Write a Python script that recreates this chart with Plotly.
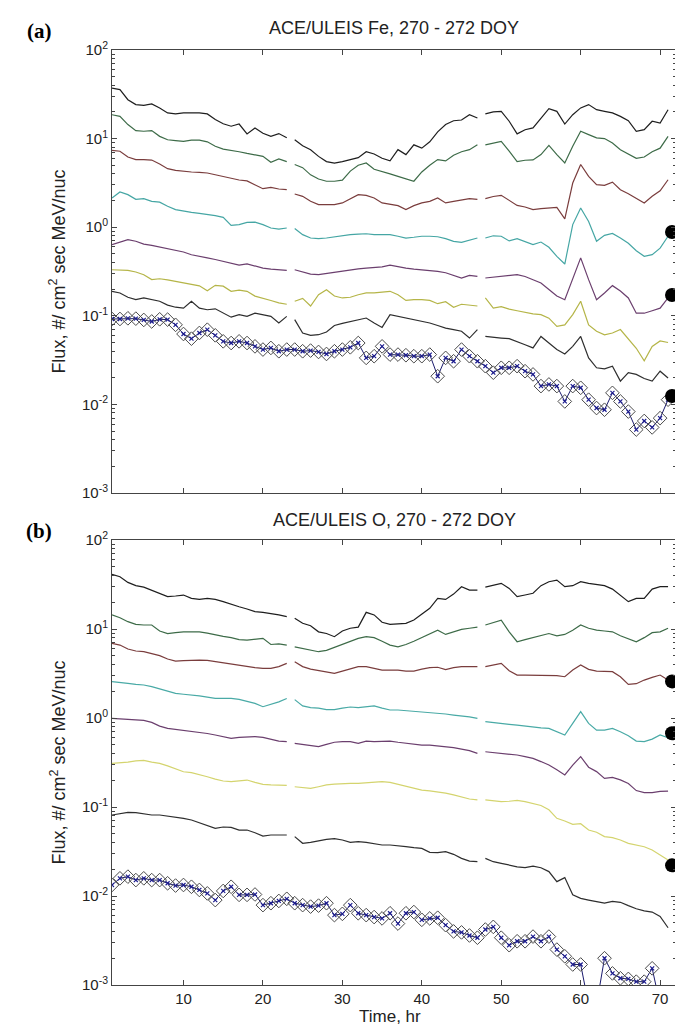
import plotly.graph_objects as go

hours = list(range(1, 72))
day_breaks = [24, 48]
x_ticks = [10, 20, 30, 40, 50, 60, 70]
y_tickvals = [1e-3, 1e-2, 1e-1, 1e0, 1e1, 1e2]
y_ticktext = ["10<sup>-3</sup>", "10<sup>-2</sup>", "10<sup>-1</sup>",
              "10<sup>0</sup>", "10<sup>1</sup>", "10<sup>2</sup>"]

# ---------------- Panel (a): Fe ----------------
fe_1 = [37.2, 35.7, 27.5, 24.2, 23.7, 24.6, 22.2, 19.5, 19.0, 19.5, 19.5, 19.5, 19.0, 16.4, 14.7, 13.8, 14.6, 11.3, 13.2, 11.5, 10.6, 11.4, 10.2,
        9.7, 8.3, 7.5, 6.3, 5.5, 5.3, 5.5, 5.8, 6.1, 7.1, 6.7, 6.0, 5.6, 7.5, 6.6, 8.5, 7.8, 9.2, 11.9, 14.4, 15.9, 16.2, 18.6, 17.1,
        19.0, 20.0, 20.3, 15.7, 11.3, 12.6, 13.2, 17.1, 21.8, 20.3, 14.6, 18.6, 22.2, 24.2, 21.2, 20.3, 19.5, 17.8, 15.9, 12.1, 12.6, 15.7, 15.0, 21.2]
fe_2 = [18.6, 17.8, 14.4, 12.3, 12.1, 12.3, 10.6, 9.7, 9.5, 9.3, 9.6, 9.6, 9.2, 8.2, 7.6, 7.4, 7.1, 6.8, 6.5, 6.3, 5.4, 5.9, 5.5,
        5.1, 4.7, 3.9, 3.5, 3.3, 3.3, 3.4, 4.3, 5.0, 5.3, 4.5, 4.2, 4.0, 3.75, 3.5, 3.3, 4.2, 5.0, 5.8, 5.6, 6.5, 7.1, 7.5, 8.5,
        8.5, 8.9, 9.3, 7.2, 5.5, 5.7, 5.75, 6.6, 8.4, 6.6, 5.3, 8.2, 12.1, 11.1, 10.2, 10.0, 8.9, 7.5, 6.7, 6.0, 6.2, 7.1, 7.8, 10.6]
fe_3 = [7.37, 7.2, 6.2, 5.8, 5.8, 5.73, 5.17, 4.58, 4.38, 4.27, 4.2, 4.16, 4.09, 3.91, 3.72, 3.53, 3.41, 3.33, 3.02, 2.72, 2.81, 2.70, 2.65,
        2.37, 2.23, 1.96, 1.80, 1.80, 1.80, 1.88, 2.10, 2.33, 2.29, 2.14, 1.88, 1.80, 1.75, 1.58, 1.75, 1.88, 1.96, 2.14, 1.88, 1.96, 2.04, 2.10, 2.06,
        2.10, 2.22, 2.29, 2.00, 1.76, 1.69, 1.58, 1.62, 1.64, 1.67, 1.24, 3.15, 5.1, 3.75, 3.02, 2.97, 3.23, 2.65, 2.39, 2.10, 1.88, 2.23, 2.58, 3.43]
fe_4 = [2.14, 2.50, 2.33, 2.06, 2.10, 1.96, 1.92, 1.72, 1.58, 1.51, 1.47, 1.43, 1.40, 1.35, 1.29, 1.05, 1.07, 1.135, 1.14, 1.07, 0.98, 0.953, 0.98,
        0.966, 0.824, 0.755, 0.742, 0.755, 0.78, 0.81, 0.824, 0.836, 0.843, 0.824, 0.824, 0.824, 0.79, 0.755, 0.77, 0.79, 0.79, 0.78, 0.742, 0.693, 0.675, 0.717, 0.755,
        0.755, 0.80, 0.79, 0.70, 0.742, 0.693, 0.635, 0.68, 0.593, 0.469, 0.384, 1.07, 1.65, 1.16, 0.693, 0.81, 0.85, 0.755, 0.66, 0.543, 0.469, 0.49, 0.58, 0.79]
fe_5 = [0.634, 0.680, 0.723, 0.694, 0.644, 0.623, 0.597, 0.582, 0.557, 0.525, 0.489, 0.466, 0.451, 0.432, 0.414, 0.396, 0.373, 0.386, 0.364, 0.345, 0.336, 0.331, 0.325,
        0.331, 0.312, 0.296, 0.291, 0.301, 0.312, 0.322, 0.333, 0.339, 0.345, 0.351, 0.357, 0.373, 0.357, 0.345, 0.336, 0.331, 0.325, 0.317, 0.306, 0.286, 0.267, 0.286, 0.278,
        0.267, 0.272, 0.276, 0.281, 0.291, 0.278, 0.256, 0.235, 0.198, 0.167, 0.152, 0.267, 0.451, 0.256, 0.152, 0.181, 0.219, 0.190, 0.159, 0.107, 0.107, 0.114, 0.122, 0.159]
fe_6 = [0.331, 0.331, 0.325, 0.312, 0.291, 0.256, 0.262, 0.254, 0.245, 0.237, 0.229, 0.218, 0.192, 0.221, 0.216, 0.189, 0.195, 0.189, 0.167, 0.159, 0.149, 0.140, 0.135,
        0.146, 0.157, 0.129, 0.173, 0.197, 0.167, 0.159, 0.162, 0.173, 0.181, 0.181, 0.186, 0.189, 0.173, 0.149, 0.152, 0.152, 0.149, 0.137, 0.144, 0.125, 0.135, 0.132, 0.129,
        0.159, 0.122, 0.127, 0.119, 0.114, 0.109, 0.105, 0.103, 0.094, 0.076, 0.079, 0.103, 0.146, 0.079, 0.067, 0.061, 0.064, 0.070, 0.054, 0.043, 0.031, 0.045, 0.052, 0.050]
fe_7 = [0.189, 0.181, 0.162, 0.152, 0.159, 0.152, 0.146, 0.132, 0.125, 0.122, 0.146, 0.122, 0.117, 0.120, 0.107, 0.0965, 0.103, 0.0985, 0.107, 0.103, 0.0985, 0.083, 0.0985,
        0.0905, 0.064, 0.0602, 0.0612, 0.0656, 0.0778, 0.0823, 0.0863, 0.0912, 0.0944, 0.083, 0.0739, 0.103, 0.0985, 0.0944, 0.0905, 0.0863, 0.083, 0.0778, 0.0727, 0.0697, 0.067, 0.0561, 0.0697,
        0.0585, 0.057, 0.0561, 0.0552, 0.0515, 0.0472, 0.0434, 0.0585, 0.0493, 0.0416, 0.0371, 0.0452, 0.0585, 0.0335, 0.0259, 0.0252, 0.0270, 0.0183, 0.0228, 0.0218, 0.0196, 0.0183, 0.0237, 0.0199]
fe_8 = [0.0921, 0.0921, 0.0937, 0.0929, 0.0898, 0.0863, 0.0913, 0.0906, 0.0791, 0.0623, 0.0552, 0.064, 0.0697, 0.0602, 0.0515, 0.0493, 0.0515, 0.0493, 0.0452, 0.0416,
        0.0434, 0.0398, 0.0416, 0.0416, 0.0398, 0.0405, 0.0391, 0.0371, 0.0398, 0.0416, 0.0441, 0.0493, 0.0335, 0.0350, 0.0452, 0.0365, 0.0365, 0.0359, 0.0350, 0.0350,
        0.0365, 0.0208, 0.0335, 0.0307, 0.0416, 0.0350, 0.0307, 0.0270, 0.0228, 0.0259, 0.0259, 0.0270, 0.0237, 0.0218, 0.0161, 0.0168, 0.0161, 0.0108, 0.0161, 0.0154,
        0.0113, 0.0091, 0.0087, 0.0135, 0.0108, 0.0083, 0.0052, 0.0065, 0.0055, 0.0070, 0.0113]
fe_dots = [0.883, 0.172, 0.01245]

# ---------------- Panel (b): O ----------------
o_1 = [41.1, 38.7, 33.4, 30.7, 29.6, 27.4, 25.2, 23.1, 23.5, 24.1, 22.1, 21.5, 22.1, 21.5, 20.3, 18.9, 17.8, 16.8, 15.7, 15.4, 15.0, 14.4, 13.8,
       13.2, 11.6, 10.9, 9.3, 8.9, 8.2, 9.5, 10.2, 10.5, 15.4, 14.4, 11.9, 11.3, 11.4, 11.6, 12.6, 14.6, 17.1, 22.1, 21.5, 24.7, 29.9, 27.4, 27.4,
       29.6, 31.2, 32.6, 28.6, 23.1, 24.1, 25.2, 30.7, 34.0, 35.5, 29.9, 30.7, 34.0, 32.6, 31.8, 30.7, 28.1, 24.1, 20.3, 22.1, 22.1, 28.1, 29.9, 29.9]
o_2 = [14.4, 13.4, 12.1, 11.3, 11.1, 11.1, 9.5, 8.9, 9.1, 9.3, 9.3, 9.3, 9.0, 8.56, 8.27, 8.0, 7.6, 7.5, 7.7, 7.85, 6.7, 6.8, 6.6,
       6.3, 6.07, 5.8, 5.56, 5.75, 6.2, 6.7, 7.3, 7.85, 8.2, 8.0, 7.3, 6.6, 6.3, 6.7, 7.3, 8.0, 8.9, 9.7, 8.7, 9.3, 9.9, 10.2, 10.5,
       11.1, 11.9, 12.6, 9.3, 7.2, 7.6, 8.0, 8.56, 8.9, 8.4, 8.7, 9.7, 11.1, 10.2, 9.7, 9.5, 9.3, 8.4, 7.7, 7.2, 8.0, 9.1, 9.3, 10.2]
o_3 = [6.9, 6.6, 5.96, 5.66, 5.56, 5.33, 5.02, 4.6, 4.37, 4.41, 4.48, 4.48, 4.45, 4.3, 4.15, 4.01, 3.87, 3.78, 3.68, 3.61, 3.61, 3.78, 4.11,
       4.3, 3.78, 3.55, 3.43, 3.32, 3.18, 3.37, 3.55, 3.78, 3.78, 3.61, 3.46, 3.46, 3.46, 3.37, 3.37, 3.55, 3.68, 3.72, 3.5, 3.68, 3.78, 3.78, 3.78,
       3.78, 3.94, 4.11, 3.40, 3.04, 3.04, 3.04, 3.04, 3.04, 2.99, 2.91, 3.46, 3.94, 3.52, 3.37, 3.32, 3.32, 2.91, 2.39, 2.43, 2.67, 2.86, 3.04, 2.67]
o_4 = [2.56, 2.52, 2.45, 2.39, 2.35, 2.25, 2.12, 1.98, 1.89, 1.85, 1.82, 1.77, 1.72, 1.66, 1.66, 1.66, 1.62, 1.55, 1.46, 1.34, 1.43, 1.52, 1.66,
       1.61, 1.37, 1.31, 1.29, 1.24, 1.24, 1.29, 1.33, 1.31, 1.34, 1.37, 1.29, 1.23, 1.23, 1.21, 1.18, 1.18, 1.16, 1.13, 1.11, 1.08, 1.06, 1.03, 0.99,
       0.91, 0.895, 0.871, 0.85, 0.834, 0.81, 0.79, 0.775, 0.765, 0.702, 0.644, 0.871, 1.18, 0.871, 0.73, 0.73, 0.765, 0.702, 0.633, 0.551, 0.542, 0.58, 0.644, 0.60]
o_5 = [0.99, 0.98, 0.97, 0.955, 0.94, 0.894, 0.81, 0.765, 0.745, 0.726, 0.713, 0.69, 0.67, 0.644, 0.617, 0.591, 0.606, 0.617, 0.617, 0.606, 0.58, 0.551, 0.542,
       0.519, 0.505, 0.489, 0.477, 0.505, 0.534, 0.542, 0.542, 0.519, 0.551, 0.542, 0.547, 0.551, 0.534, 0.519, 0.505, 0.497, 0.497, 0.489, 0.477, 0.465, 0.448, 0.43, 0.40,
       0.418, 0.41, 0.40, 0.39, 0.384, 0.368, 0.352, 0.324, 0.296, 0.262, 0.229, 0.296, 0.368, 0.28, 0.25, 0.21, 0.215, 0.202, 0.184, 0.153, 0.145, 0.145, 0.15, 0.151]
o_6 = [0.309, 0.313, 0.319, 0.33, 0.334, 0.319, 0.309, 0.29, 0.27, 0.249, 0.243, 0.233, 0.219, 0.206, 0.196, 0.193, 0.198, 0.201, 0.189, 0.18, 0.177, 0.175, 0.175,
       0.169, 0.167, 0.162, 0.169, 0.177, 0.181, 0.184, 0.184, 0.184, 0.188, 0.189, 0.193, 0.189, 0.18, 0.169, 0.162, 0.155, 0.152, 0.148, 0.143, 0.137, 0.129, 0.123, 0.120,
       0.120, 0.117, 0.115, 0.116, 0.119, 0.115, 0.11, 0.104, 0.093, 0.0746, 0.0696, 0.0639, 0.065, 0.0551, 0.052, 0.0465, 0.0452, 0.0426, 0.039, 0.0374, 0.0358, 0.0329, 0.029, 0.0254]
o_7 = [0.0813, 0.0849, 0.0871, 0.0864, 0.0835, 0.0813, 0.0813, 0.0792, 0.0759, 0.0746, 0.0714, 0.0667, 0.0628, 0.0576, 0.0596, 0.0591, 0.0551, 0.0551, 0.0514, 0.0472, 0.0485, 0.0485, 0.0485,
       0.0465, 0.0391, 0.0401, 0.0419, 0.0433, 0.0441, 0.0426, 0.0401, 0.0408, 0.0401, 0.0384, 0.0374, 0.0374, 0.0368, 0.0358, 0.0349, 0.0343, 0.031, 0.0307, 0.0315, 0.0294, 0.0265, 0.0247, 0.0243,
       0.0265, 0.0243, 0.0233, 0.0223, 0.0213, 0.0208, 0.0217, 0.0208, 0.0188, 0.0145, 0.0161, 0.0103, 0.0094, 0.009, 0.0087, 0.0083, 0.0087, 0.0085, 0.0078, 0.0072, 0.0068, 0.0066, 0.0059, 0.0044]
o_8 = [0.0133, 0.0158, 0.0165, 0.0151, 0.0158, 0.0151, 0.0151, 0.0139, 0.0131, 0.0133,
       0.0127, 0.0117, 0.0107, 0.0090, 0.0114, 0.0127, 0.0103, 0.0103, 0.0104, 0.0079,
       0.0083, 0.0088, 0.0093, 0.0083, 0.0079, 0.0076, 0.0078, 0.0083, 0.0061, 0.0063,
       0.0079, 0.0064, 0.0061, 0.0058, 0.0056, 0.0064, 0.0049, 0.0064, 0.0066, 0.0054,
       0.0056, 0.0057, 0.0047, 0.0040, 0.0039, 0.0036, 0.0034, 0.0042, 0.0045, 0.0034,
       0.0028, 0.0031, 0.0031, 0.0035, 0.0031, 0.0035, 0.0025, 0.0021, 0.0017, 0.0017,
       0.0006, 0.0006, 0.0020, 0.00135, 0.00119, 0.00117, 0.00109, 0.00109, 0.00154, 0.0006, 0.0005]
o_dots = [2.58, 0.673, 0.0221]

line_colors_a = ["#1e1e1e", "#3d6b48", "#7a3d3d", "#45a6a4", "#6b3f6e", "#b5b548", "#2e2e2e"]
line_colors_b = ["#1e1e1e", "#3d6b48", "#7a3d3d", "#49aaa6", "#6b3f6e", "#d4d46e", "#2e2e2e"]


def gapped(vals):
    xs, ys = [], []
    for h, v in zip(hours, vals):
        if h in day_breaks:
            xs.append(None)
            ys.append(None)
        xs.append(h)
        ys.append(v)
    return xs, ys


fig = go.Figure()

panels = [
    ([fe_1, fe_2, fe_3, fe_4, fe_5, fe_6, fe_7], fe_8, fe_dots, line_colors_a, "x", "y"),
    ([o_1, o_2, o_3, o_4, o_5, o_6, o_7], o_8, o_dots, line_colors_b, "x2", "y2"),
]

for lines, diamonds, dots, colors, xa, ya in panels:
    for vals, col in zip(lines, colors):
        xs, ys = gapped(vals)
        fig.add_trace(go.Scatter(x=xs, y=ys, mode="lines", xaxis=xa, yaxis=ya,
                                 line=dict(color=col, width=1.2), showlegend=False,
                                 connectgaps=False))
    fig.add_trace(go.Scatter(x=hours, y=diamonds, mode="lines+markers", xaxis=xa, yaxis=ya,
                             line=dict(color="#1b1b6e", width=1),
                             marker=dict(symbol="diamond-open", size=10.5, color="#4a4a4a",
                                         line=dict(width=1, color="#4a4a4a")),
                             showlegend=False))
    fig.add_trace(go.Scatter(x=hours, y=diamonds, mode="markers", xaxis=xa, yaxis=ya,
                             marker=dict(symbol="x-thin", size=4,
                                         line=dict(width=1.2, color="#1b1b8e")),
                             showlegend=False))
    fig.add_trace(go.Scatter(x=[71.5] * len(dots), y=dots, mode="markers", xaxis=xa, yaxis=ya,
                             marker=dict(symbol="circle", size=14, color="#000000"),
                             cliponaxis=False, showlegend=False))

axis_font = dict(family="Arial, Liberation Sans, sans-serif", size=15, color="#222222")

xcommon = dict(range=[1, 72], tickvals=x_ticks, ticks="inside", ticklen=5,
               tickcolor="#444444", showline=True, linecolor="#444444", linewidth=1,
               mirror="ticks", showgrid=False, zeroline=False, tickfont=axis_font)
ycommon = dict(type="log", range=[-3, 2], tickvals=y_tickvals, ticktext=y_ticktext,
               ticks="inside", ticklen=5, tickcolor="#444444", showline=True,
               linecolor="#444444", linewidth=1, mirror="ticks", showgrid=False,
               zeroline=False, tickfont=axis_font,
               minor=dict(ticks="inside", ticklen=3, tickcolor="#444444", dtick="D1",
                          showgrid=False))

fig.update_layout(
    width=683, height=1026,
    margin=dict(l=104, r=15, t=42, b=49),
    plot_bgcolor="white", paper_bgcolor="white",
    xaxis=dict(**xcommon, anchor="y", showticklabels=False),
    yaxis=dict(**ycommon, domain=[0.5262, 1.0], anchor="x"),
    xaxis2=dict(**xcommon, anchor="y2", showticklabels=True),
    yaxis2=dict(**ycommon, domain=[0.0, 0.4759], anchor="x2"),
)

title_font = dict(family="Arial, Liberation Sans, sans-serif", size=18, color="#222222")
xtitle_font = dict(family="Arial, Liberation Sans, sans-serif", size=17, color="#222222")
label_font = dict(family="Times New Roman, Liberation Serif, serif", size=21, color="#000000")

annotations = [
    dict(text="ACE/ULEIS Fe, 270 - 272 DOY", x=0.5, y=1.0235, font=title_font),
    dict(text="ACE/ULEIS O, 270 - 272 DOY", x=0.5, y=0.4973, font=title_font),
    dict(text="<b>(a)</b>", x=-0.1294, y=1.0203, font=label_font),
    dict(text="<b>(b)</b>", x=-0.1294, y=0.4856, font=label_font),
    dict(text="Flux, #/ cm<sup>2</sup> sec MeV/nuc", x=-0.0957, y=0.763, textangle=-90, font=title_font),
    dict(text="Flux, #/ cm<sup>2</sup> sec MeV/nuc", x=-0.0957, y=0.238, textangle=-90, font=title_font),
    dict(text="Time, hr", x=0.493, y=-0.0342, font=xtitle_font),
]
for a in annotations:
    fig.add_annotation(xref="paper", yref="paper", showarrow=False,
                       xanchor="center", yanchor="middle", **a)

fig.write_html("out.html")
